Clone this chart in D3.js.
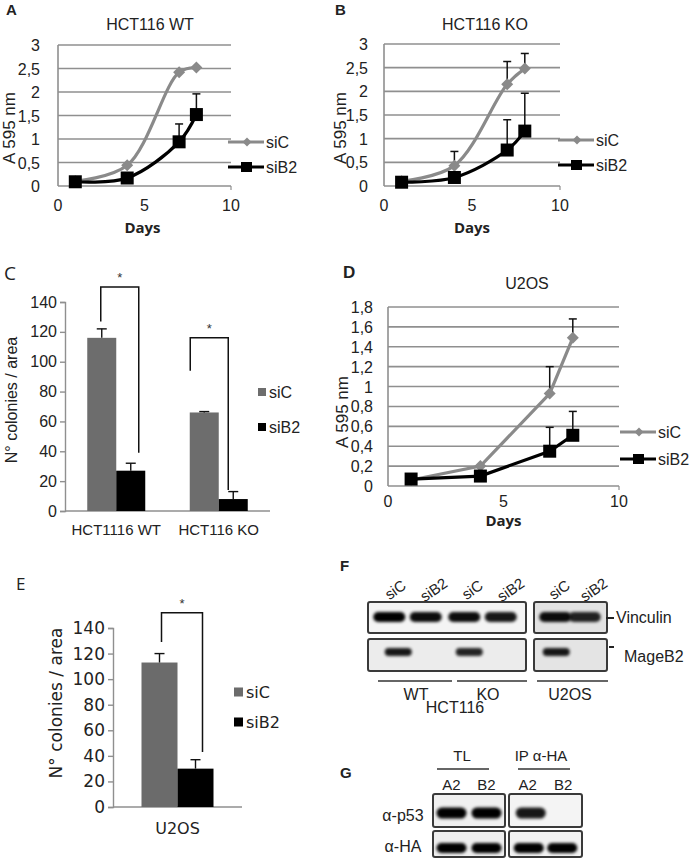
<!DOCTYPE html>
<html><head><meta charset="utf-8">
<script src="https://cdn.jsdelivr.net/npm/d3@7/dist/d3.min.js"></script>
<style>body{margin:0;background:#fff}svg{display:block}</style>
</head><body>
<svg id="chart" width="693" height="864"></svg>
<script>
// ---------- DATA ----------
const days = [1, 4, 7, 8];
const seriesNames = ["siC", "siB2"];
const dayTicks = [0, 5, 10];
const growthTicksAB = [0, 0.5, 1, 1.5, 2, 2.5, 3];
const growthLabelsAB = ["0", "0,5", "1", "1,5", "2", "2,5", "3"];
const growthTicksD = [0, 0.2, 0.4, 0.6, 0.8, 1, 1.2, 1.4, 1.6, 1.8];
const growthLabelsD = ["0", "0,2", "0,4", "0,6", "0,8", "1", "1,2", "1,4", "1,6", "1,8"];

const wtSiC = [0.10, 0.44, 2.42, 2.52];
const wtSiCErr = [0.02, 0.03, 0.04, 0.03];
const wtSiB2 = [0.09, 0.17, 0.94, 1.52];
const wtSiB2Err = [0.02, 0.03, 0.38, 0.44];

const koSiC = [0.10, 0.43, 2.15, 2.48];
const koSiCErr = [0.02, 0.30, 0.48, 0.32];
const koSiB2 = [0.08, 0.18, 0.76, 1.16];
const koSiB2Err = [0.02, 0.03, 0.64, 0.80];

const u2osSiC = [0.06, 0.20, 0.93, 1.49];
const u2osSiCErr = [0.01, 0.04, 0.27, 0.19];
const u2osSiB2 = [0.07, 0.10, 0.35, 0.51];
const u2osSiB2Err = [0.01, 0.02, 0.24, 0.24];

const colonyTicks = [0, 20, 40, 60, 80, 100, 120, 140];
const colonyCats = ["HCT1116 WT", "HCT116 KO"];
const colonySiC = [116, 66];
const colonySiCErr = [6, 0.6];
const colonySiB2 = [27, 8];
const colonySiB2Err = [5, 5];

const u2osCats = ["U2OS"];
const u2osColSiC = [113];
const u2osColSiCErr = [7];
const u2osColSiB2 = [30];
const u2osColSiB2Err = [7];

const blotLanes = ["siC", "siB2", "siC", "siB2", "siC", "siB2"];
const vinculinBands = [1, 0.95, 0.95, 0.9, 0.95, 0.85];
const mageB2Bands = [0.9, 0, 0.85, 0, 0.9, 0];
const ipLanes = ["A2", "B2", "A2", "B2"];
const p53Bands = [1, 1, 0.9, 0];
const haBands = [1, 1, 1, 1];

// ---------- DRAWING ----------
const svg = d3.select("#chart");
svg.append("rect").attr("width", 693).attr("height", 864).attr("fill", "#fff");
const defs = svg.append("defs");
defs.append("filter").attr("id", "blur").attr("x", "-20%").attr("y", "-60%").attr("width", "140%").attr("height", "220%")
  .append("feGaussianBlur").attr("stdDeviation", 1.4);

const ARIAL = "'Liberation Sans', Arial, sans-serif";
const NARROW = "'Liberation Sans Narrow', 'Arial Narrow', 'Liberation Sans', Arial, sans-serif";
const GRAY = "#8a8a8a";
const GRID = "#8f8f8f";

function text(g, x, y, s, opts = {}) {
  return g.append("text").attr("x", x).attr("y", y).text(s)
    .attr("font-family", opts.font || ARIAL)
    .attr("font-size", opts.size || 14)
    .attr("font-weight", opts.weight || "normal")
    .attr("text-anchor", opts.anchor || "start")
    .attr("fill", opts.fill || "#222");
}
function diamondPath(r) { return `M0,${-r}L${r},0L0,${r}L${-r},0Z`; }

function lineChart(o) {
  const g = svg.append("g");
  const x = d3.scaleLinear().domain([0, 10]).range([o.x0, o.x1]);
  const y = d3.scaleLinear().domain([0, o.yMax]).range([o.yB, o.yT]);
  g.selectAll(".grid").data(o.ticks).join("line")
    .attr("x1", x(0)).attr("x2", x(10)).attr("y1", d => y(d)).attr("y2", d => y(d))
    .attr("stroke", GRID).attr("stroke-width", 1.6);
  g.append("line").attr("x1", x(0)).attr("x2", x(0)).attr("y1", y(0)).attr("y2", y(o.yMax))
    .attr("stroke", GRID).attr("stroke-width", 1.6);
  g.append("line").attr("x1", x(10)).attr("x2", x(10)).attr("y1", y(0)).attr("y2", y(0) + 4)
    .attr("stroke", GRID).attr("stroke-width", 1.2);
  o.ticks.forEach((t, i) => text(g, x(0) - o.labGap, y(t) + 6, o.labels[i], {anchor: "end", size: o.tickSize, font: NARROW}));
  dayTicks.forEach(t => text(g, x(t), y(0) + o.xLabDy, String(t), {anchor: "middle", size: o.tickSize, font: ARIAL}));
  text(g, (x(0) + x(10)) / 2 + o.daysDx, y(0) + o.daysDy, "Days", {anchor: "middle", size: 15, weight: "bold", font: "'Open Sans', sans-serif"});
  if (o.title) text(g, o.titleX, o.titleY, o.title, {anchor: "middle", size: 16});
  g.append("text").attr("transform", `translate(${o.ytX},${o.ytY}) rotate(-90)`)
    .attr("text-anchor", "middle").attr("font-family", ARIAL).attr("font-size", 17).attr("fill", "#222").text("A 595 nm");
  text(g, o.letterX, o.letterY, o.letter, {size: o.letterSize || 15, weight: "bold"});

  const line = d3.line().x((d, i) => x(days[i])).y(d => y(d)).curve(o.smooth ? d3.curveCatmullRom.alpha(0.5) : d3.curveLinear);
  const series = [
    {v: o.sC, e: o.sCErr, color: GRAY},
    {v: o.sB, e: o.sBErr, color: "#000"}
  ];
  series.forEach(s => {
    g.append("path").attr("d", line(s.v)).attr("fill", "none").attr("stroke", s.color).attr("stroke-width", 3.2);
  });
  series.forEach(s => {
    s.v.forEach((v, i) => {
      if (s.e[i] < 0.06) return;
      const cx = x(days[i]), top = y(v + s.e[i]);
      g.append("line").attr("x1", cx).attr("x2", cx).attr("y1", y(v)).attr("y2", top).attr("stroke", "#111").attr("stroke-width", 1.5);
      g.append("line").attr("x1", cx - 4).attr("x2", cx + 4).attr("y1", top).attr("y2", top).attr("stroke", "#111").attr("stroke-width", 1.5);
    });
  });
  g.selectAll(".dia").data(o.sC).join("path")
    .attr("transform", (d, i) => `translate(${x(days[i])},${y(d)})`)
    .attr("d", diamondPath(6)).attr("fill", GRAY);
  g.selectAll(".sq").data(o.sB).join("rect")
    .attr("x", (d, i) => x(days[i]) - 6.5).attr("y", d => y(d) - 6.5)
    .attr("width", 13).attr("height", 13).attr("fill", "#000");
  const L = [{y: o.legY1, c: GRAY, n: seriesNames[0], m: "d"}, {y: o.legY2, c: "#000", n: seriesNames[1], m: "s"}];
  L.forEach(l => {
    g.append("line").attr("x1", o.legX).attr("x2", o.legX + 36).attr("y1", l.y).attr("y2", l.y).attr("stroke", l.c).attr("stroke-width", 3.2);
    if (l.m === "d") g.append("path").attr("transform", `translate(${o.legX + 19},${l.y})`).attr("d", diamondPath(4.5)).attr("fill", l.c);
    else g.append("rect").attr("x", o.legX + 13).attr("y", l.y - 5).attr("width", 11).attr("height", 10).attr("fill", l.c);
    text(g, o.legX + 38, l.y + 6, l.n, {size: 16});
  });
}

lineChart({x0: 58, x1: 231, yB: 186, yT: 45, yMax: 3, ticks: growthTicksAB, labels: growthLabelsAB, smooth: true,
  sC: wtSiC, sCErr: wtSiCErr, sB: wtSiB2, sBErr: wtSiB2Err, labGap: 18, tickSize: 16, xLabDy: 25, daysDx: -2, daysDy: 47,
  title: "HCT116 WT", titleX: 150, titleY: 30, ytX: 15, ytY: 128, letter: "A", letterX: 6, letterY: 15,
  legX: 228, legY1: 142, legY2: 167});
lineChart({x0: 384, x1: 560, yB: 186, yT: 44, yMax: 3, ticks: growthTicksAB, labels: growthLabelsAB, smooth: true,
  sC: koSiC, sCErr: koSiCErr, sB: koSiB2, sBErr: koSiB2Err, labGap: 16, tickSize: 16, xLabDy: 25, daysDx: 0, daysDy: 47,
  title: "HCT116 KO", titleX: 485, titleY: 30, ytX: 346, ytY: 128, letter: "B", letterX: 335, letterY: 15,
  legX: 558, legY1: 140, legY2: 165});
lineChart({x0: 388, x1: 619, yB: 486, yT: 307, yMax: 1.8, ticks: growthTicksD, labels: growthLabelsD, smooth: false,
  sC: u2osSiC, sCErr: u2osSiCErr, sB: u2osSiB2, sBErr: u2osSiB2Err, labGap: 15, tickSize: 16, xLabDy: 21, daysDx: 0, daysDy: 40,
  title: "U2OS", titleX: 527, titleY: 289, ytX: 348, ytY: 412, letter: "D", letterX: 343, letterY: 278, letterSize: 17,
  legX: 620, legY1: 432, legY2: 459});

function barChart(o) {
  const g = svg.append("g");
  const y = d3.scaleLinear().domain([0, 140]).range([o.yB, o.yT]);
  const x = d3.scaleBand().domain(o.cats).range([o.x0, o.x1]);
  const xs = d3.scaleBand().domain(seriesNames).range([0, o.bw * 2]);
  const ax = g.append("g").attr("transform", `translate(${o.x0},0)`)
    .call(d3.axisLeft(y).tickValues(colonyTicks).tickSize(5).tickPadding(3).tickFormat(d3.format("d")));
  ax.select(".domain").attr("stroke", GRID).attr("stroke-width", 1.4);
  ax.selectAll(".tick line").attr("stroke", GRID).attr("stroke-width", 1.4);
  ax.selectAll(".tick text").attr("font-family", o.tickFont).attr("font-size", o.tickSize).attr("fill", "#222");
  g.append("line").attr("x1", o.x0).attr("x2", o.x1).attr("y1", y(0)).attr("y2", y(0)).attr("stroke", GRID).attr("stroke-width", 1.4);
  const groups = o.cats.map((c, i) => ({c, vals: [[o.sC[i], o.sCErr[i]], [o.sB[i], o.sBErr[i]]]}));
  groups.forEach(gr => {
    const gx = x(gr.c) + x.bandwidth() / 2 - o.bw;
    gr.vals.forEach(([v, e], j) => {
      const bx = gx + xs(seriesNames[j]);
      g.append("rect").attr("x", bx).attr("y", y(v)).attr("width", xs.bandwidth()).attr("height", y(0) - y(v))
        .attr("fill", j === 0 ? o.gray : "#000");
      const cx = bx + xs.bandwidth() / 2, top = y(v + e);
      g.append("line").attr("x1", cx).attr("x2", cx).attr("y1", y(v)).attr("y2", top).attr("stroke", "#111").attr("stroke-width", 1.4);
      g.append("line").attr("x1", cx - 5).attr("x2", cx + 5).attr("y1", top).attr("y2", top).attr("stroke", "#111").attr("stroke-width", 1.4);
    });
    text(g, x(gr.c) + x.bandwidth() / 2 + o.catDx, y(0) + o.catDy, gr.c, {anchor: "middle", size: o.catSize, font: o.tickFont});
  });
  o.brackets.forEach((b, i) => {
    const c = o.cats[i];
    const gx = x(c) + x.bandwidth() / 2 - o.bw;
    const lx = gx + xs("siC") + xs.bandwidth() / 2 + b.dl;
    const rx = gx + xs("siB2") + xs.bandwidth() / 2 + b.dr;
    g.append("path").attr("d", `M${lx},${y(b.lb)}V${y(b.top)}H${rx}V${y(b.rb)}`)
      .attr("fill", "none").attr("stroke", "#111").attr("stroke-width", 1.5);
    text(g, (lx + rx) / 2, y(b.top) - 5, "*", {anchor: "middle", size: 13, fill: "#333"});
  });
  [[o.legY1, o.gray, seriesNames[0]], [o.legY2, "#000", seriesNames[1]]].forEach(([ly, c, n]) => {
    g.append("rect").attr("x", o.legX).attr("y", ly - o.legSq / 2).attr("width", o.legSq).attr("height", o.legSq).attr("fill", c);
    text(g, o.legX + o.legSq + 3, ly + 6, n, {size: o.legSize, font: o.tickFont});
  });
  g.append("text").attr("transform", `translate(${o.ytX},${o.ytY}) rotate(-90)`).attr("text-anchor", "middle")
    .attr("font-family", o.tickFont).attr("font-size", o.ytSize).attr("fill", "#222").text("N° colonies / area");
  text(g, o.letterX, o.letterY, o.letter, {size: o.letterSize, font: "'Open Sans', sans-serif"});
}

barChart({cats: colonyCats, sC: colonySiC, sCErr: colonySiCErr, sB: colonySiB2, sBErr: colonySiB2Err,
  x0: 65, x1: 270, yB: 511, yT: 302, bw: 29, gray: "#6d6d6d", tickFont: ARIAL, tickSize: 16, catSize: 15, catDx: 0, catDy: 24,
  brackets: [{dl: -1, dr: 8, lb: 127, top: 150, rb: 39}, {dl: -14, dr: -5, lb: 94, top: 116, rb: 14}],
  legX: 258, legY1: 392, legY2: 427, legSq: 8, legSize: 16, ytX: 17, ytY: 400, ytSize: 16,
  letter: "C", letterX: 4, letterY: 280, letterSize: 19});

barChart({cats: u2osCats, sC: u2osColSiC, sCErr: u2osColSiCErr, sB: u2osColSiB2, sBErr: u2osColSiB2Err,
  x0: 113, x1: 242, yB: 807, yT: 628, bw: 36, gray: "#6b6b6b", tickFont: "'DejaVu Sans', sans-serif", tickSize: 17, catSize: 16, catDx: 0, catDy: 27,
  brackets: [{dl: 2, dr: 7, lb: 129, top: 152, rb: 43}],
  legX: 234, legY1: 692, legY2: 722, legSq: 9, legSize: 16, ytX: 62, ytY: 703, ytSize: 17,
  letter: "E", letterX: 16, letterY: 590, letterSize: 17});

// ---------- Western blots ----------
function blot(g, x0, x1, y0, y1, fill) {
  g.append("rect").attr("x", x0).attr("y", y0).attr("width", x1 - x0).attr("height", y1 - y0)
    .attr("rx", 2).attr("fill", fill).attr("stroke", "#3a3a3a").attr("stroke-width", 2);
}
function bands(g, lanes, xs, vals, yc, w, h, dx) {
  lanes.forEach((l, i) => {
    if (vals[i] <= 0) return;
    g.append("rect").attr("x", xs(i) + xs.bandwidth() / 2 - w / 2 + (dx ? dx[i] : 0)).attr("y", yc - h / 2)
      .attr("width", w).attr("height", h).attr("rx", h / 2)
      .attr("fill", "#000").attr("opacity", vals[i]).attr("filter", "url(#blur)");
  });
}
const gF = svg.append("g");
text(gF, 340, 571, "F", {size: 15, weight: "bold"});
const fLeft = d3.scaleBand().domain(d3.range(4)).range([370, 524]);
const fRight = d3.scaleBand().domain(d3.range(4, 6)).range([536, 605]);
const laneX = i => (i < 4 ? fLeft(i) + fLeft.bandwidth() / 2 : fRight(i) + fRight.bandwidth() / 2);
blot(gF, 368, 526, 602, 633, "#f4f4f4");
blot(gF, 368, 526, 639, 671, "#ececec");
blot(gF, 534, 607, 602, 633, "#e2e2e2");
blot(gF, 534, 607, 639, 671, "#e4e4e4");
const fScale = Object.assign(i => laneX(i) - 19, {bandwidth: () => 38});
bands(gF, blotLanes, fScale, vinculinBands, 617, 32, 10, [0, -2, -2, -4, 2, -3]);
bands(gF, blotLanes, fScale, mageB2Bands, 652, 27, 8, [9, 0, 3, 0, 3, 0]);
blotLanes.forEach((l, i) => {
  gF.append("text").attr("transform", `translate(${laneX(i) + 9},${594}) rotate(-35)`).attr("text-anchor", "middle")
    .attr("font-family", ARIAL).attr("font-size", 15).attr("fill", "#222").text(l);
});
gF.append("line").attr("x1", 606).attr("x2", 614).attr("y1", 618).attr("y2", 618).attr("stroke", "#222").attr("stroke-width", 2);
text(gF, 616, 623, "Vinculin", {size: 16});
gF.append("line").attr("x1", 609).attr("x2", 614).attr("y1", 647).attr("y2", 647).attr("stroke", "#222").attr("stroke-width", 2);
text(gF, 624, 662, "MageB2", {size: 16});
[[378, 452], [457, 527], [537, 608]].forEach(([a, b]) =>
  gF.append("line").attr("x1", a).attr("x2", b).attr("y1", 681).attr("y2", 681).attr("stroke", "#333").attr("stroke-width", 1.4));
text(gF, 416, 700, "WT", {anchor: "middle", size: 16});
text(gF, 488, 700, "KO", {anchor: "middle", size: 16});
text(gF, 570, 700, "U2OS", {anchor: "middle", size: 16});
text(gF, 455, 713, "HCT116", {anchor: "middle", size: 16});

const gG = svg.append("g");
text(gG, 340, 778, "G", {size: 15, weight: "bold"});
const gLeft = d3.scaleBand().domain(d3.range(2)).range([434, 504]);
const gRight = d3.scaleBand().domain(d3.range(2, 4)).range([510, 581]);
const gLaneX = i => (i < 2 ? gLeft(i) + gLeft.bandwidth() / 2 : gRight(i) + gRight.bandwidth() / 2);
const gScale = Object.assign(i => gLaneX(i) - 17, {bandwidth: () => 34});
blot(gG, 433, 505, 794, 827, "#f0f0f0");
blot(gG, 433, 505, 831, 857, "#eeeeee");
blot(gG, 509, 582, 794, 827, "#f4f4f4");
blot(gG, 509, 582, 831, 857, "#f2f2f2");
bands(gG, ipLanes, gScale, p53Bands, 813, 30, 11, [0, 0, 3, 0]);
bands(gG, ipLanes, gScale, haBands, 848, 30, 10, [0, 0, 1, -1]);
ipLanes.forEach((l, i) => text(gG, gLaneX(i), 790, l, {anchor: "middle", size: 15}));
text(gG, 462, 761, "TL", {anchor: "middle", size: 15});
text(gG, 541, 761, "IP α-HA", {anchor: "middle", size: 15});
gG.append("line").attr("x1", 437).attr("x2", 489).attr("y1", 769).attr("y2", 769).attr("stroke", "#333").attr("stroke-width", 1.4);
gG.append("line").attr("x1", 518).attr("x2", 570).attr("y1", 769).attr("y2", 769).attr("stroke", "#333").attr("stroke-width", 1.4);
text(gG, 403, 821, "α-p53", {anchor: "middle", size: 16});
text(gG, 403, 852, "α-HA", {anchor: "middle", size: 16});
</script>
</body></html>
